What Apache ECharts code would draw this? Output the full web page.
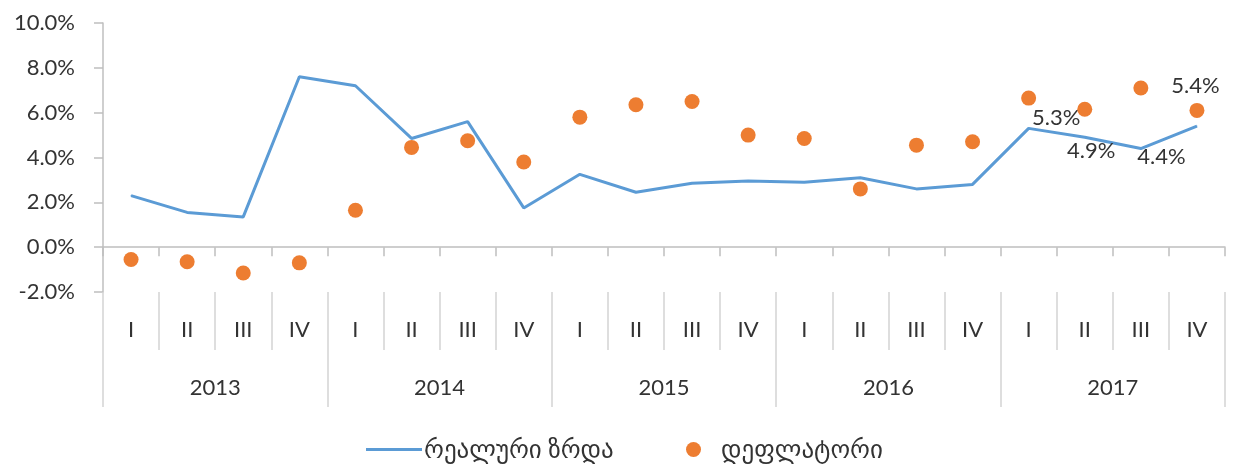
<!DOCTYPE html>
<html>
<head>
<meta charset="utf-8">
<script src="https://cdn.jsdelivr.net/npm/echarts@6/dist/echarts.min.js"></script>
<style>html,body{margin:0;padding:0;background:#fff}#c{width:1240px;height:468px}</style>
</head>
<body>
<div id="c"></div>
<script>
var quarters = ['I','II','III','IV','I','II','III','IV','I','II','III','IV','I','II','III','IV','I','II','III','IV'];
var years = ['2013','2014','2015','2016','2017'];
var realGrowth = [2.3, 1.55, 1.35, 7.6, 7.2, 4.85, 5.6, 1.75, 3.25, 2.45, 2.85, 2.95, 2.9, 3.1, 2.6, 2.8, 5.3, 4.9, 4.4, 5.4];
var deflator = [-0.55, -0.65, -1.15, -0.7, 1.65, 4.45, 4.75, 3.8, 5.8, 6.35, 6.5, 5.0, 4.85, 2.6, 4.55, 4.7, 6.65, 6.15, 7.1, 6.1];
var yTicks = {min: -2, max: 10, interval: 2};
var seriesNames = ['რეალური ზრდა', 'დეფლატორი'];
var labelledIdx = [16, 17, 18, 19];
var labelOffsets = {16: [28, -10], 17: [7, 14], 18: [21, 9], 19: [-1, -40]};

var FONT = 'Lato, "DejaVu Sans", sans-serif';
var TXT = '#333333';
var blue = '#5B9BD5', orange = '#ED7D31';

var lineData = realGrowth.map(function (v, i) {
  if (labelledIdx.indexOf(i) >= 0) {
    return {value: v, label: {show: true, position: labelOffsets[i]}};
  }
  return v;
});

var chart = echarts.init(document.getElementById('c'), null, {renderer: 'canvas'});
chart.setOption({
  animation: false,
  backgroundColor: '#fff',
  grid: {left: 103, right: 15, top: 23, bottom: 176, containLabel: false},
  legend: [
    {data: [{name: seriesNames[0], icon: 'rect'}], left: 361, top: 432, itemWidth: 56, itemHeight: 3, itemGap: 0,
      textStyle: {fontFamily: FONT, fontSize: 25, color: TXT, padding: [0, 0, 0, -3]}},
    {data: [{name: seriesNames[1], icon: 'circle'}], left: 681, top: 432, itemWidth: 15, itemHeight: 15,
      textStyle: {fontFamily: FONT, fontSize: 25, color: TXT, padding: [0, 0, 0, 15]}}
  ],
  xAxis: [
    {type: 'category', data: quarters, boundaryGap: true,
      axisLine: {onZero: true, lineStyle: {color: '#bfbfbf', width: 1.5}},
      axisTick: {show: true, length: 9, lineStyle: {color: '#bfbfbf', width: 1.5}},
      axisLabel: {show: false}, splitLine: {show: false}},
    {type: 'category', data: quarters, position: 'bottom', offset: 0, boundaryGap: true,
      axisLine: {show: false, onZero: false},
      axisTick: {show: true, length: 58, lineStyle: {color: '#d4d4d4', width: 1.5}},
      axisLabel: {show: true, margin: 27, fontFamily: FONT, fontSize: 22, color: TXT, interval: 0}},
    {type: 'category', data: years, position: 'bottom', offset: 0, boundaryGap: true,
      axisLine: {show: false, onZero: false},
      axisTick: {show: true, length: 115, lineStyle: {color: '#d4d4d4', width: 1.5}},
      axisLabel: {show: true, margin: 85, fontFamily: FONT, fontSize: 22, color: TXT, interval: 0}}
  ],
  yAxis: {
    type: 'value', min: yTicks.min, max: yTicks.max, interval: yTicks.interval,
    axisLine: {show: true, lineStyle: {color: '#bfbfbf', width: 1.5}},
    axisTick: {show: true, length: 9, lineStyle: {color: '#bfbfbf', width: 1.5}},
    splitLine: {show: false},
    axisLabel: {margin: 28, fontFamily: FONT, fontSize: 22, color: TXT,
      formatter: function (v) { return v.toFixed(1) + '%'; }}
  },
  series: [
    {name: seriesNames[0], type: 'line', data: lineData, xAxisIndex: 0,
      color: blue, symbol: 'circle', symbolSize: 1, showSymbol: true,
      lineStyle: {color: blue, width: 3},
      itemStyle: {color: blue},
      label: {show: false, fontFamily: FONT, fontSize: 22, color: TXT, align: 'center', verticalAlign: 'middle',
        formatter: function (p) { return p.value.toFixed(1) + '%'; }},
      z: 2},
    {name: seriesNames[1], type: 'scatter', data: deflator, xAxisIndex: 0,
      symbol: 'circle', symbolSize: 15, itemStyle: {color: orange, opacity: 1}, z: 3}
  ]
});
</script>
</body>
</html>
